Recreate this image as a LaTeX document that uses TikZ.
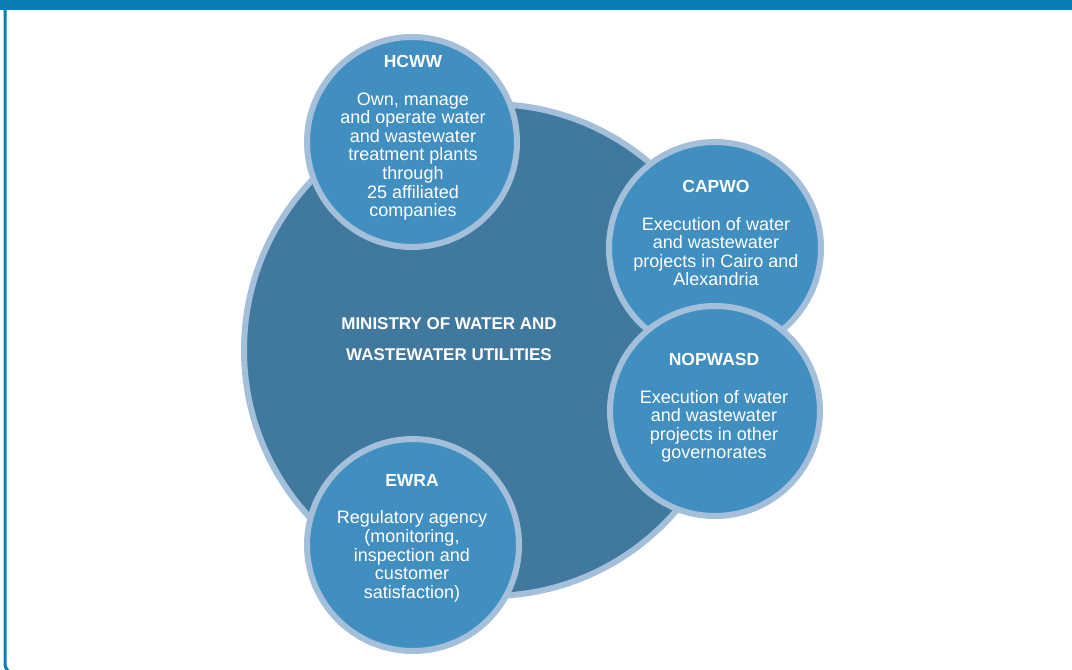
\documentclass[tikz,border=0pt]{standalone}
\usepackage{fontspec}
\setmainfont{Liberation Sans}
\definecolor{barblue}{HTML}{0A7DB5}
\definecolor{bigfill}{HTML}{41789E}
\definecolor{smallfill}{HTML}{418FC1}
\definecolor{ringc}{HTML}{A3BFDA}
\tikzset{
  bigcirc/.style={circle, fill=bigfill, draw=ringc, line width=6pt},
  smallcirc/.style={circle, fill=smallfill, draw=ringc, line width=6pt},
  txt/.style={text=white, align=center, font=\fontsize{18}{18.6}\selectfont, inner sep=0pt},
  mtxt/.style={text=white, align=center, font=\fontsize{17}{30.5}\selectfont\bfseries, inner sep=0pt}
}
\newcommand{\ttl}[1]{\textbf{\fontsize{17.5}{18.6}\selectfont #1}}
\begin{document}
\begin{tikzpicture}[x=1pt,y=-1pt]
\useasboundingbox (0,0) rectangle (1072,670);
\clip (0,0) rectangle (1072,670);
\fill[white] (0,0) rectangle (1072,670);
\fill[barblue] (0,0) rectangle (1072,10);
\draw[barblue, line width=3pt, rounded corners=9pt] (5,10) -- (5,673) -- (300,673);
% circles
\node[bigcirc, minimum size=492pt] (ministry) at (490,350) {};
\node[smallcirc, minimum size=210pt] (hcww) at (412,142) {};
\node[smallcirc, minimum size=212pt] (capwo) at (715,248) {};
\node[smallcirc, minimum size=210pt] (nopwasd) at (715,411) {};
\node[smallcirc, minimum size=212pt] (ewra) at (413,545) {};
% texts
\node[mtxt] (mt) at (449,339) {MINISTRY OF WATER AND\\WASTEWATER UTILITIES};
\node[txt, anchor=north] (ht) at (413,55) {\ttl{HCWW}\\[19pt]Own, manage\\and operate water\\and wastewater\\treatment plants\\through\\25 affiliated\\companies};
\node[txt, anchor=north] (ct) at (716,180) {\ttl{CAPWO}\\[19pt]Execution of water\\and wastewater\\projects in Cairo and\\Alexandria};
\node[txt, anchor=north] (nt) at (714,353) {\ttl{NOPWASD}\\[19pt]Execution of water\\and wastewater\\projects in other\\governorates};
\node[txt, anchor=north] (et) at (412,474) {\ttl{EWRA}\\[19pt]Regulatory agency\\(monitoring,\\inspection and\\customer\\satisfaction)};
\end{tikzpicture}
\end{document}
